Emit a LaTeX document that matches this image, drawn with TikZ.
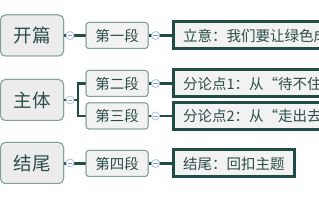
\documentclass[tikz,border=0pt]{standalone}
\usepackage{fontspec}
\setmainfont{Noto Sans CJK SC}
\definecolor{txt}{HTML}{2B4C4A}
\definecolor{boxline}{HTML}{86A29C}
\definecolor{boxfill}{HTML}{ECECEC}
\definecolor{dark}{HTML}{1F4D46}
\definecolor{circline}{HTML}{AEBFE4}
\definecolor{circminus}{HTML}{8C9FD0}
\tikzset{
  mainbox/.style={draw=boxline, fill=boxfill, line width=1pt, rounded corners=5pt,
    minimum width=63pt, minimum height=41pt, inner sep=0pt, text=txt,
    font=\fontsize{18.5pt}{20pt}\selectfont},
  secbox/.style={draw=boxline, fill=boxfill!70!white, line width=1pt, rounded corners=3pt,
    minimum width=62pt, minimum height=26pt, inner sep=0pt, text=txt,
    font=\fontsize{14.5pt}{16pt}\selectfont},
  leafbox/.style={draw=dark, fill=boxfill!70!white, line width=3pt, anchor=west,
    minimum height=27pt, inner xsep=10pt, inner ysep=0pt, text=txt,
    font=\fontsize{14.5pt}{16pt}\selectfont},
  conn/.style={draw=dark, line width=2.2pt},
  minuscirc/.style={circle, draw=circline, fill=white, line width=0.8pt,
    minimum size=8pt, inner sep=0pt,
    path picture={\draw[circminus, line width=0.8pt] ([xshift=-2.3pt]path picture bounding box.center) -- ([xshift=2.3pt]path picture bounding box.center);}}
}
\begin{document}
\begin{tikzpicture}[x=1pt,y=-1pt]
\useasboundingbox (0,0) rectangle (319,200);
\clip (0,0) rectangle (319,200);
% main boxes
\node[mainbox] (kai) at (32,35.5) {开篇};
\node[mainbox] (zhu) at (32,100) {主体};
\node[mainbox] (jie) at (32,163) {结尾};
% section boxes
\node[secbox] (s1) at (117,35.5) {第一段};
\node[secbox] (s2) at (117,83.5) {第二段};
\node[secbox] (s3) at (117,116) {第三段};
\node[secbox] (s4) at (117,163.5) {第四段};
% leaf boxes
\node[leafbox] (l1) at (171.5,35.5) {立意：我们要让绿色成};
\node[leafbox] (l2) at (171.5,83.5) {分论点1：从“待不住};
\node[leafbox] (l3) at (171.5,116) {分论点2：从“走出去};
\node[leafbox] (l4) at (171.5,163.5) {结尾：回扣主题};
% connectors
\coordinate (br) at (78,100);
\draw[conn] (kai.east |- s1.west) -- (s1.west);
\draw[conn] (zhu.east) -- (br);
\draw[conn, line cap=rect] (br) |- (s2.west);
\draw[conn, line cap=rect] (br) |- (s3.west);
\draw[conn] (jie.east |- s4.west) -- (s4.west);
\draw[conn] (s1.east) -- (l1.west);
\draw[conn] (s2.east) -- (l2.west);
\draw[conn] (s3.east) -- (l3.west);
\draw[conn] (s4.east) -- (l4.west);
% redraw boxes on top of connectors
\node[mainbox] at (kai) {开篇};
\node[mainbox] at (zhu) {主体};
\node[mainbox] at (jie) {结尾};
\node[secbox] at (s1) {第一段};
\node[secbox] at (s2) {第二段};
\node[secbox] at (s3) {第三段};
\node[secbox] at (s4) {第四段};
% collapse circles
\node[minuscirc] (c1) at (70,35.5) {};
\node[minuscirc] (c2) at (70,100) {};
\node[minuscirc] (c3) at (70,163) {};
\node[minuscirc] (d1) at (155.5,35.5) {};
\node[minuscirc] (d2) at (155.5,83.5) {};
\node[minuscirc] (d3) at (155.5,116) {};
\node[minuscirc] (d4) at (155.5,163.5) {};
\end{tikzpicture}
\end{document}
